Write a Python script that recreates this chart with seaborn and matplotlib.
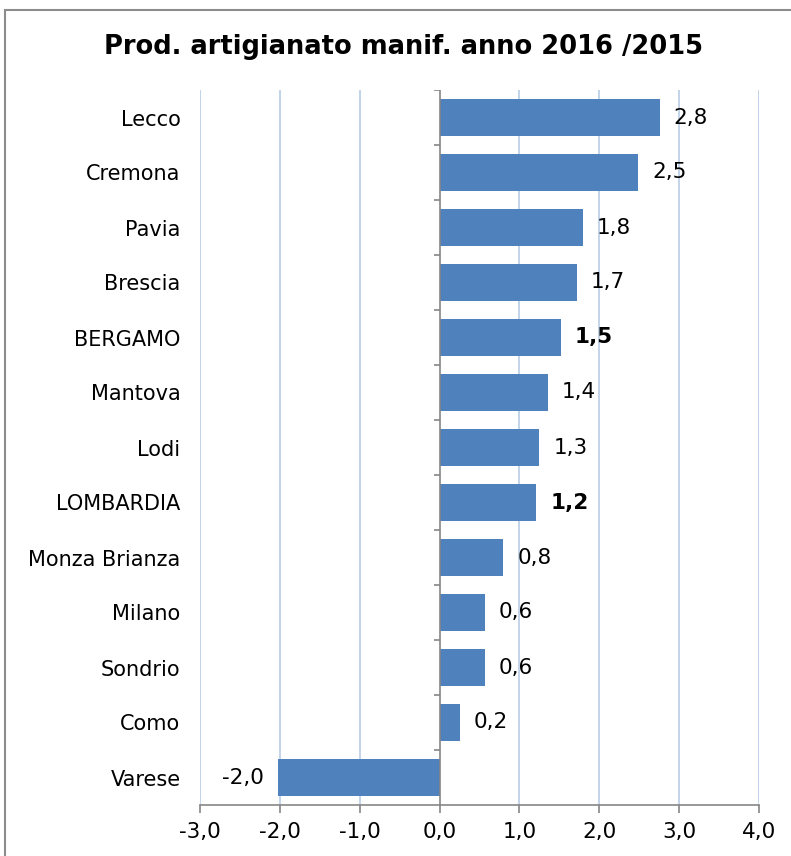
import matplotlib
matplotlib.use("Agg")
import matplotlib.pyplot as plt
import seaborn as sns
import pandas as pd
from matplotlib.patches import Rectangle

categories = ["Lecco", "Cremona", "Pavia", "Brescia", "BERGAMO", "Mantova", "Lodi",
              "LOMBARDIA", "Monza Brianza", "Milano", "Sondrio", "Como", "Varese"]
values = [2.76, 2.49, 1.79, 1.72, 1.52, 1.36, 1.25, 1.21, 0.80, 0.57, 0.57, 0.25, -2.02]
labels = ["2,8", "2,5", "1,8", "1,7", "1,5", "1,4", "1,3", "1,2", "0,8", "0,6", "0,6", "0,2", "-2,0"]
bold_cats = ["BERGAMO", "LOMBARDIA"]
xticks = [-3, -2, -1, 0, 1, 2, 3, 4]
xticklabels = ["-3,0", "-2,0", "-1,0", "0,0", "1,0", "2,0", "3,0", "4,0"]
title = "Prod. artigianato manif. anno 2016 /2015"

sns.set_theme(style="white")
plt.rcParams['font.family'] = ['DejaVu Sans']
plt.rcParams['text.color'] = 'black'
plt.rcParams['xtick.color'] = 'black'
plt.rcParams['ytick.color'] = 'black'

df = pd.DataFrame({"cat": categories, "val": values})

fig = plt.figure(figsize=(7.91, 8.56), dpi=100)
ax = fig.add_axes([200/791, 1-805/856, (759-200)/791, (805-90)/856])

for x in xticks:
    if x != 0:
        ax.axvline(x, color="#B9CDE5", lw=1.2, zorder=0)

sns.barplot(data=df, x="val", y="cat", orient="h", color="#4F81BD",
            saturation=1, width=0.67, ax=ax, zorder=2, linewidth=0)

ax.set_xlim(-3, 4)
ax.set_ylim(len(categories) - 0.5, -0.5)
ax.set_xlabel("")
ax.set_ylabel("")

# zero axis line with category boundary ticks
ax.axvline(0, color="#868686", lw=1.2, zorder=3)
ax.hlines([i - 0.5 for i in range(len(categories))], -0.07, 0, color="#868686", lw=1.2, zorder=3)

for s in ["top", "right", "left"]:
    ax.spines[s].set_visible(False)
ax.spines["bottom"].set_color("#868686")
ax.spines["bottom"].set_linewidth(1.2)

ax.set_xticks(xticks)
ax.set_xticklabels(xticklabels, fontsize=15.5)
ax.tick_params(axis="x", direction="out", length=6, width=1.2, color="#868686", pad=6,
               bottom=True, labelcolor="black")
ax.tick_params(axis="y", length=0, pad=14, labelsize=15, labelcolor="black")

container = ax.containers[0]
texts = ax.bar_label(container, labels=labels, padding=10, fontsize=15.5, color="black")
for t, c in zip(texts, categories):
    if c in bold_cats:
        t.set_fontweight("bold")

fig.text(403/791, 1-47/856, title, ha="center", va="center", fontsize=18.5,
         fontweight="bold", color="black")

fig.patches.append(Rectangle((5/791, -0.05), 1.2, 1 - 10/856 + 0.05, transform=fig.transFigure,
                             fill=False, edgecolor="#8C8C8C", lw=1.5, figure=fig))

fig.savefig("out.png", dpi=100)
